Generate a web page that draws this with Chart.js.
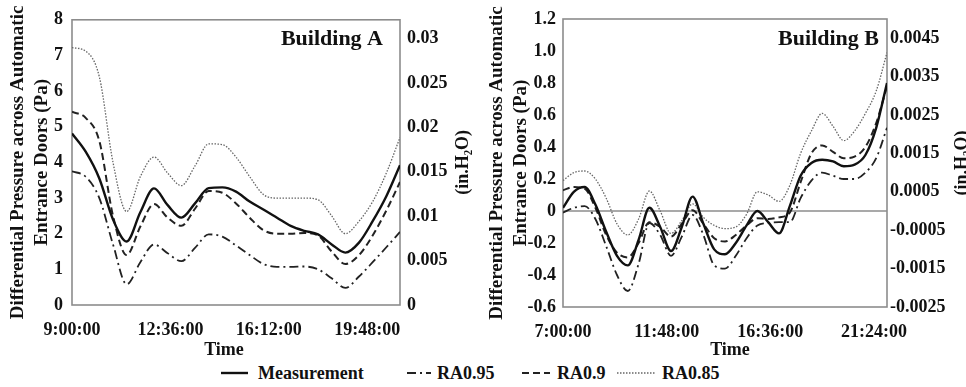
<!DOCTYPE html>
<html>
<head>
<meta charset="utf-8">
<script src="https://cdn.jsdelivr.net/npm/chart.js@4.4.1/dist/chart.umd.min.js"></script>
<style>
  body { margin: 0; background: #fff; width: 966px; height: 387px; overflow: hidden; position: relative;
         font-family: "Liberation Serif", "Times New Roman", serif; }
  #cA { position: absolute; left: 0; top: 0; }
  #cB { position: absolute; left: 480px; top: 0; }
  .lg { position: absolute; top: 362px; height: 22px; font-weight: bold; font-size: 18px; line-height: 22px; color: #111; }
  .lgs { position: absolute; top: 362px; }
</style>
</head>
<body>
<canvas id="cA" width="480" height="362"></canvas>
<canvas id="cB" width="486" height="362"></canvas>
<div id="legend"></div>

<script>
// ─── Data ─────────────────────────────────────────────────────────────────────

// Building A, hours of day
const timesA = [9, 9.5, 10, 10.5, 11, 11.5, 12, 12.5, 13, 13.5, 14, 14.5, 15, 15.5, 16, 16.5, 17, 17.5, 18, 18.5, 19, 19.5, 20, 20.5, 21];
const measA  = [4.81, 4.3, 3.55, 2.4, 1.78, 2.6, 3.27, 2.8, 2.45, 2.85, 3.28, 3.3, 3.18, 2.9, 2.68, 2.45, 2.22, 2.08, 1.98, 1.7, 1.47, 1.75, 2.35, 3.05, 3.92];
const ra95A  = [3.75, 3.6, 3.0, 1.7, 0.58, 1.2, 1.7, 1.45, 1.23, 1.6, 1.98, 1.92, 1.67, 1.4, 1.15, 1.07, 1.07, 1.08, 1.0, 0.75, 0.48, 0.8, 1.2, 1.62, 2.05];
const ra90A  = [5.42, 5.25, 4.6, 2.5, 1.4, 2.2, 2.83, 2.45, 2.22, 2.7, 3.2, 3.15, 2.85, 2.45, 2.1, 2.0, 2.0, 2.02, 1.95, 1.5, 1.15, 1.4, 1.95, 2.65, 3.45];
const ra85A  = [7.22, 7.12, 6.4, 4.0, 2.62, 3.6, 4.15, 3.7, 3.35, 3.9, 4.52, 4.5, 4.15, 3.6, 3.1, 3.0, 3.0, 3.0, 2.95, 2.5, 2.0, 2.35, 2.9, 3.7, 4.7];

// Building B, hours of day
const timesB = [7, 7.5, 8, 8.5, 9, 9.5, 10, 10.5, 11, 11.5, 12, 12.5, 13, 13.5, 14, 14.5, 15, 15.5, 16, 16.5, 17, 17.5, 18, 18.5, 19, 19.5, 20, 20.5, 21, 21.5, 22];
const measB  = [0.02, 0.12, 0.15, 0.04, -0.13, -0.28, -0.34, -0.18, 0.02, -0.1, -0.25, -0.1, 0.09, -0.08, -0.24, -0.27, -0.2, -0.09, 0.0, -0.07, -0.14, 0.03, 0.22, 0.3, 0.32, 0.31, 0.28, 0.29, 0.35, 0.52, 0.8];
const ra95B  = [-0.01, 0.02, 0.03, -0.05, -0.22, -0.4, -0.5, -0.33, -0.075, -0.15, -0.28, -0.16, -0.025, -0.15, -0.34, -0.36, -0.28, -0.17, -0.09, -0.075, -0.07, -0.07, 0.08, 0.19, 0.24, 0.22, 0.2, 0.2, 0.24, 0.33, 0.52];
const ra90B  = [0.13, 0.15, 0.14, 0.02, -0.15, -0.26, -0.29, -0.2, -0.07, -0.1, -0.16, -0.08, 0.005, -0.08, -0.17, -0.19, -0.15, -0.09, -0.045, -0.05, -0.04, -0.01, 0.18, 0.36, 0.41, 0.37, 0.33, 0.34, 0.4, 0.55, 0.78];
const ra85B  = [0.19, 0.24, 0.25, 0.2, 0.08, -0.08, -0.15, -0.05, 0.125, 0.0, -0.14, -0.06, 0.045, -0.04, -0.09, -0.11, -0.1, -0.02, 0.12, 0.1, 0.06, 0.16, 0.36, 0.5, 0.61, 0.53, 0.44, 0.5, 0.61, 0.75, 0.99];

// Axis ticks
const xTicksA  = [9, 12.6, 16.2, 19.8];
const xTicksB  = [7, 11.8, 16.6, 21.4];
const yTicksA  = [0, 1, 2, 3, 4, 5, 6, 7, 8];
const yTicksB  = [-0.6, -0.4, -0.2, 0, 0.2, 0.4, 0.6, 0.8, 1.0, 1.2];
const y2TicksA = [0, 0.005, 0.01, 0.015, 0.02, 0.025, 0.03];
const y2TicksB = [-0.0025, -0.0015, -0.0005, 0.0005, 0.0015, 0.0025, 0.0035, 0.0045];

const SERIES_LABELS = ["Measurement", "RA0.95", "RA0.9", "RA0.85"];

// ─── Style ────────────────────────────────────────────────────────────────────

const FONT      = "'Liberation Serif', 'Times New Roman', serif";
const INK       = "#111";
const BOX_COLOR = "#8c8c8c";
const STYLES = [
  { color: "#111", width: 2.4, dash: [] },
  { color: "#222", width: 1.8, dash: [9, 4, 2, 4] },
  { color: "#222", width: 2.0, dash: [7, 4] },
  { color: "#666", width: 1.3, dash: [1.5, 1.5] },
];

// ─── Helpers ──────────────────────────────────────────────────────────────────

const pad2 = (n) => String(n).padStart(2, "0");

function fmtTime(h) {
  const mins = Math.round(h * 60);
  return `${Math.floor(mins / 60)}:${pad2(mins % 60)}:00`;
}

const fixedTicks = (values) => (scale) => {
  scale.ticks = values.map((v) => ({ value: v }));
};

function buildDatasets(times, seriesList) {
  return seriesList.map((vals, i) => ({
    label: SERIES_LABELS[i],
    data: times.map((t, k) => ({ x: t, y: vals[k] })),
    borderColor: STYLES[i].color,
    borderWidth: STYLES[i].width,
    borderDash: STYLES[i].dash,
    pointRadius: 0,
    cubicInterpolationMode: "monotone",
    fill: false,
    yAxisID: "y",
  }));
}

// ─── Decor plugin ─────────────────────────────────────────────────────────────

const decor = {
  id: "decor",
  beforeDatasetsDraw(chart, _args, o) {
    const { ctx, chartArea: a, scales } = chart;
    ctx.save();
    ctx.strokeStyle = BOX_COLOR;
    ctx.lineWidth = 1.6;
    ctx.strokeRect(a.left, a.top, a.right - a.left, a.bottom - a.top);
    if (o.zeroLine) {
      const y0 = scales.y.getPixelForValue(0);
      ctx.beginPath();
      ctx.moveTo(a.left, y0);
      ctx.lineTo(a.right, y0);
      ctx.stroke();
    }
    ctx.restore();
  },
  afterDraw(chart, _args, o) {
    const { ctx, chartArea: a } = chart;
    ctx.save();
    ctx.fillStyle = INK;
    ctx.font = `bold 22px ${FONT}`;
    ctx.textAlign = "right";
    ctx.textBaseline = "middle";
    ctx.fillText(o.panel, o.panelX, 39);

    ctx.font = `bold 18px ${FONT}`;
    ctx.textAlign = "center";
    ctx.fillText("Time", o.timeX, 350);

    ctx.translate(o.rightTitleX, (a.top + a.bottom) / 2);
    ctx.rotate(-Math.PI / 2);
    ctx.fillText("(in.H\u2082O)", 0, 0);
    ctx.restore();
  },
};

// ─── Charts ───────────────────────────────────────────────────────────────────

function makeChart(canvasId, cfg) {
  const tickFont = { family: FONT, size: 18, weight: "bold" };
  return new Chart(document.getElementById(canvasId), {
    type: "line",
    data: { datasets: buildDatasets(cfg.times, cfg.series) },
    options: {
      responsive: false,
      animation: false,
      layout: { padding: { top: 19, left: 0, right: 0, bottom: 0 } },
      plugins: {
        legend: { display: false },
        tooltip: { enabled: false },
        decor: cfg.decor,
      },
      scales: {
        x: {
          type: "linear",
          min: cfg.xMin,
          max: cfg.xMax,
          afterBuildTicks: fixedTicks(cfg.xTicks),
          afterFit: (s) => { s.height = cfg.xHeight; },
          grid: { display: false, drawTicks: false },
          border: { display: false },
          ticks: { color: INK, font: tickFont, padding: 15, maxRotation: 0, autoSkip: false, callback: (v) => fmtTime(v) },
        },
        y: {
          position: "left",
          min: cfg.yMin,
          max: cfg.yMax,
          afterBuildTicks: fixedTicks(cfg.yTicks),
          afterFit: (s) => { s.width = cfg.yWidth; },
          grid: { display: false, drawTicks: false },
          border: { display: false },
          ticks: { color: INK, font: tickFont, padding: cfg.yPad, callback: cfg.yFmt },
          title: {
            display: true,
            text: ["Differential Pressure across Automatic", "Entrance Doors (Pa)"],
            color: INK,
            font: { family: FONT, size: 19, weight: "bold", lineHeight: 1.26 },
            padding: { top: cfg.titlePad, bottom: 0 },
          },
        },
        y2: {
          position: "right",
          min: cfg.y2Min,
          max: cfg.y2Max,
          afterBuildTicks: fixedTicks(cfg.y2Ticks),
          afterFit: (s) => { s.width = cfg.y2Width; },
          grid: { display: false, drawTicks: false },
          border: { display: false },
          ticks: { color: INK, font: tickFont, padding: cfg.y2Pad, callback: (v) => String(+v.toFixed(4)) },
        },
      },
    },
    plugins: [decor],
  });
}

makeChart("cA", {
  times: timesA,
  series: [measA, ra95A, ra90A, ra85A],
  xMin: 9, xMax: 21, xTicks: xTicksA, xHeight: 57,
  yMin: 0, yMax: 8, yTicks: yTicksA, yWidth: 72, yPad: 9, titlePad: 6,
  yFmt: (v) => String(v),
  y2Min: 0, y2Max: 8 * 0.004015, y2Ticks: y2TicksA, y2Width: 80, y2Pad: 7,
  decor: { panel: "Building A", panelX: 383, timeX: 224, rightTitleX: 463, zeroLine: false },
});

makeChart("cB", {
  times: timesB,
  series: [measB, ra95B, ra90B, ra85B],
  xMin: 7, xMax: 22, xTicks: xTicksB, xHeight: 55,
  yMin: -0.6, yMax: 1.2, yTicks: yTicksB, yWidth: 83, yPad: 7, titlePad: 5,
  yFmt: (v) => (Math.abs(v) < 1e-9 ? "0" : v.toFixed(1)),
  y2Min: -0.0025, y2Max: 0.005, y2Ticks: y2TicksB, y2Width: 79, y2Pad: 3,
  decor: { panel: "Building B", panelX: 399, timeX: 250, rightTitleX: 482, zeroLine: true },
});

// ─── Legend ───────────────────────────────────────────────────────────────────

const LEGEND_POS = [
  { line: [221, 248], text: 258 },
  { line: [407, 431], text: 437 },
  { line: [522, 550], text: 557 },
  { line: [617, 655], text: 662 },
];

const legend = document.getElementById("legend");
SERIES_LABELS.forEach((label, i) => {
  const p = LEGEND_POS[i];
  const s = STYLES[i];
  const w = p.line[1] - p.line[0];
  const dash = s.dash.length ? s.dash.join(" ") : "none";
  legend.insertAdjacentHTML("beforeend",
    `<svg class="lgs" width="${w}" height="22" style="left:${p.line[0]}px"><line x1="0" y1="11" x2="${w}" y2="11" stroke="${s.color}" stroke-width="${s.width}" stroke-dasharray="${dash}"/></svg>`);
  legend.insertAdjacentHTML("beforeend", `<div class="lg" style="left:${p.text}px">${label}</div>`);
});
</script>
</body>
</html>
